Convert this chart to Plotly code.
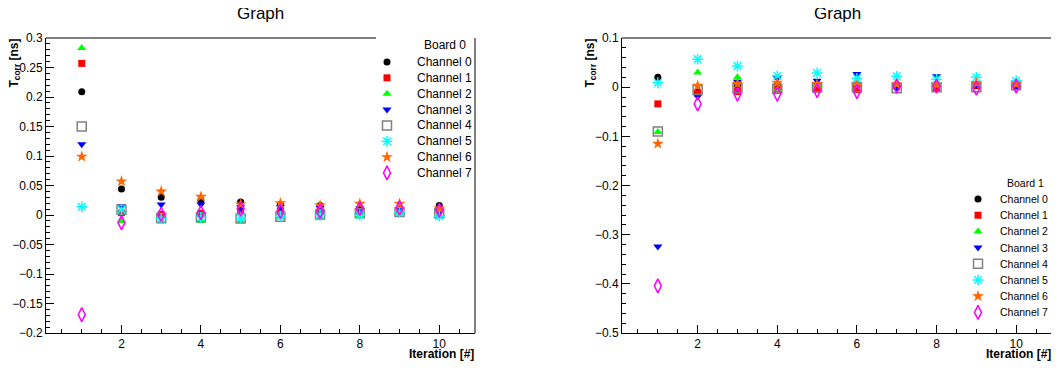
import plotly.graph_objects as go

iterations = [1, 2, 3, 4, 5, 6, 7, 8, 9, 10]
channel_names = ["Channel 0", "Channel 1", "Channel 2", "Channel 3",
                 "Channel 4", "Channel 5", "Channel 6", "Channel 7"]
board_titles = ["Board 0", "Board 1"]

# Board 0 corrections [ns]
b0_ch0 = [0.209, 0.044, 0.030, 0.025, 0.022, 0.018, 0.016, 0.012, 0.012, 0.016]
b0_ch1 = [0.257, 0.004, 0.001, 0.003, 0.008, 0.006, 0.006, 0.006, 0.008, 0.008]
b0_ch2 = [0.283, -0.010, -0.011, -0.010, -0.010, -0.004, -0.004, -0.001, 0.002, 0.000]
b0_ch3 = [0.120, 0.015, 0.018, 0.018, 0.013, 0.013, 0.012, 0.011, 0.010, 0.006]
b0_ch4 = [0.150, 0.009, -0.005, -0.004, -0.006, -0.003, 0.001, 0.003, 0.005, 0.003]
b0_ch5 = [0.014, 0.009, -0.006, -0.004, -0.005, -0.002, 0.000, 0.000, 0.005, -0.002]
b0_ch6 = [0.099, 0.057, 0.040, 0.031, 0.018, 0.020, 0.016, 0.019, 0.019, 0.011]
b0_ch7 = [-0.169, -0.013, 0.001, 0.004, 0.010, 0.006, 0.006, 0.011, 0.012, 0.008]

# Board 1 corrections [ns]
b1_ch0 = [0.020, -0.010, 0.003, 0.005, 0.005, 0.002, 0.000, 0.002, 0.003, 0.001]
b1_ch1 = [-0.034, -0.012, -0.009, -0.004, -0.004, -0.005, 0.003, -0.002, 0.004, 0.005]
b1_ch2 = [-0.091, 0.030, 0.020, -0.005, 0.005, 0.010, 0.010, 0.008, 0.006, 0.008]
b1_ch3 = [-0.324, -0.019, 0.011, 0.018, 0.013, 0.027, 0.000, 0.022, 0.007, 0.003]
b1_ch4 = [-0.090, -0.006, -0.002, -0.003, 0.000, 0.000, -0.002, 0.000, 0.000, 0.004]
b1_ch5 = [0.009, 0.057, 0.043, 0.023, 0.029, 0.018, 0.022, 0.016, 0.020, 0.013]
b1_ch6 = [-0.115, 0.003, 0.007, 0.009, 0.006, 0.004, 0.006, 0.005, 0.008, 0.006]
b1_ch7 = [-0.404, -0.034, -0.014, -0.014, -0.007, -0.009, 0.002, 0.002, -0.002, 0.002]

board0 = [b0_ch0, b0_ch1, b0_ch2, b0_ch3, b0_ch4, b0_ch5, b0_ch6, b0_ch7]
board1 = [b1_ch0, b1_ch1, b1_ch2, b1_ch3, b1_ch4, b1_ch5, b1_ch6, b1_ch7]

styles = [
    dict(symbol="circle", color="#000000", size=7, line=dict(width=0)),
    dict(symbol="square", color="#ff0000", size=7, line=dict(width=0)),
    dict(symbol="triangle-up", color="#00ff00", size=8, line=dict(width=0)),
    dict(symbol="triangle-down", color="#0000ff", size=8, line=dict(width=0)),
    dict(symbol="square-open", color="#808080", size=9, line=dict(width=1.5, color="#808080")),
    dict(symbol="asterisk-open", color="#00ffff", size=9, line=dict(width=1.5, color="#00ffff")),
    dict(symbol="star", color="#ff6600", size=9, line=dict(width=0)),
    dict(symbol="diamond-tall-open", color="#ff00ff", size=10, line=dict(width=1.5, color="#ff00ff")),
]

W, H = 1059, 368
OFF = 8  # the page body offsets the figure by this many pixels
FONT = "Liberation Sans, Arial, Helvetica, sans-serif"

def px_x(p):
    return (p - OFF) / W

def px_y(p):
    return 1 - (p - OFF) / H

# layout geometry (page pixels)
TOP, BOTTOM = 38, 333
PANELS = [dict(x0=46, x1=475, xa="x", ya="y"), dict(x0=622, x1=1052, xa="x2", ya="y2")]
LEG = [dict(title_x=468, title_y=45, y0=62, dy=15.85, gx=387, tx=415, fs=12),
       dict(title_x=1046, title_y=183, y0=199, dy=16.2, gx=978, tx=998, fs=10.5)]

fig = go.Figure()

for p, board in enumerate([board0, board1]):
    for i, (name, vals) in enumerate(zip(channel_names, board)):
        fig.add_trace(go.Scatter(x=iterations, y=vals, mode="markers", name=name,
                                 marker=styles[i], xaxis=PANELS[p]["xa"], yaxis=PANELS[p]["ya"],
                                 showlegend=False, cliponaxis=False))

# legend glyphs on a hidden pixel-coordinate overlay axis
for i in range(len(channel_names)):
    gx = [LEG[p]["gx"] for p in range(2)]
    gy = [LEG[p]["y0"] + LEG[p]["dy"] * i for p in range(2)]
    fig.add_trace(go.Scatter(x=gx, y=gy, mode="markers", marker=styles[i],
                             xaxis="x3", yaxis="y3", showlegend=False, hoverinfo="skip",
                             cliponaxis=False))

common_x = dict(range=[0.1, 10.9], tick0=0, dtick=2, ticks="inside", ticklen=8,
                tickcolor="black", showline=True, mirror=False, linecolor="black",
                linewidth=1, showgrid=False, zeroline=False, automargin=False,
                tickfont=dict(family=FONT, size=12, color="black"),
                minor=dict(dtick=0.5, tick0=0, ticks="inside", ticklen=4, tickcolor="black"))
common_y = dict(ticks="inside", ticklen=8, tickcolor="black", showline=True, mirror=False,
                linecolor="black", linewidth=1, showgrid=False, zeroline=False,
                automargin=False,
                tickfont=dict(family=FONT, size=12, color="black"))

ydom = [px_y(BOTTOM), px_y(TOP)]
fig.update_layout(
    width=W, height=H,
    margin=dict(l=0, r=0, t=0, b=0, autoexpand=False),
    paper_bgcolor="white", plot_bgcolor="rgba(0,0,0,0)",
    font=dict(family=FONT, color="black"),
    showlegend=False,
    xaxis=dict(domain=[px_x(PANELS[0]["x0"]), px_x(PANELS[0]["x1"])], anchor="y", **common_x),
    yaxis=dict(domain=ydom, anchor="x", range=[-0.2, 0.3], tick0=0, dtick=0.05,
               minor=dict(dtick=0.01, tick0=0, ticks="inside", ticklen=4, tickcolor="black"),
               **common_y),
    xaxis2=dict(domain=[px_x(PANELS[1]["x0"]), px_x(PANELS[1]["x1"])], anchor="y2", **common_x),
    yaxis2=dict(domain=ydom, anchor="x2", range=[-0.5, 0.1], tick0=0, dtick=0.1,
                minor=dict(dtick=0.02, tick0=0, ticks="inside", ticklen=4, tickcolor="black"),
                **common_y),
    xaxis3=dict(domain=[0, 1], range=[OFF, W + OFF], visible=False, fixedrange=True,
                automargin=False),
    yaxis3=dict(domain=[0, 1], range=[H + OFF, OFF], visible=False, fixedrange=True,
                automargin=False, anchor="x3"),
)

# frame top/right edges (top of left frame hidden behind legend box)
shapes = [
    dict(type="line", xref="paper", yref="paper", x0=px_x(46), x1=px_x(376),
         y0=px_y(TOP), y1=px_y(TOP), line=dict(color="black", width=1)),
    dict(type="line", xref="paper", yref="paper", x0=px_x(475), x1=px_x(475),
         y0=px_y(TOP), y1=px_y(BOTTOM), line=dict(color="black", width=1)),
    dict(type="line", xref="paper", yref="paper", x0=px_x(622), x1=px_x(1052),
         y0=px_y(TOP), y1=px_y(TOP), line=dict(color="black", width=1)),
    dict(type="line", xref="paper", yref="paper", x0=px_x(1052), x1=px_x(1052),
         y0=px_y(TOP), y1=px_y(BOTTOM), line=dict(color="black", width=1)),
]

annotations = []
for p in range(2):
    cx = (PANELS[p]["x0"] + PANELS[p]["x1"]) / 2
    annotations.append(dict(text="Graph", x=px_x(cx), y=px_y(13), xref="paper", yref="paper",
                            xanchor="center", yanchor="middle", showarrow=False,
                            font=dict(family=FONT, size=17, color="black")))
    annotations.append(dict(text="<b>T<sub>corr</sub> [ns]</b>", x=px_x(PANELS[p]["x0"] - 31),
                            y=px_y(TOP - 1), xref="paper", yref="paper",
                            xanchor="center", yanchor="top", textangle=-90, showarrow=False,
                            font=dict(family=FONT, size=12, color="black")))
    annotations.append(dict(text="<b>Iteration [#]</b>", x=px_x(PANELS[p]["x1"] + 1),
                            y=px_y(354), xref="paper", yref="paper",
                            xanchor="right", yanchor="middle", showarrow=False,
                            font=dict(family=FONT, size=12, color="black")))
    L = LEG[p]
    annotations.append(dict(text=board_titles[p], x=px_x(L["title_x"]), y=px_y(L["title_y"]),
                            xref="paper", yref="paper", xanchor="right", yanchor="middle",
                            showarrow=False, font=dict(family=FONT, size=L["fs"], color="black")))
    for i, name in enumerate(channel_names):
        annotations.append(dict(text=name, x=px_x(L["tx"]), y=px_y(L["y0"] + L["dy"] * i),
                                xref="paper", yref="paper", xanchor="left", yanchor="middle",
                                showarrow=False,
                                font=dict(family=FONT, size=L["fs"], color="black")))

fig.update_layout(annotations=annotations, shapes=shapes)

fig.write_html("out.html")
